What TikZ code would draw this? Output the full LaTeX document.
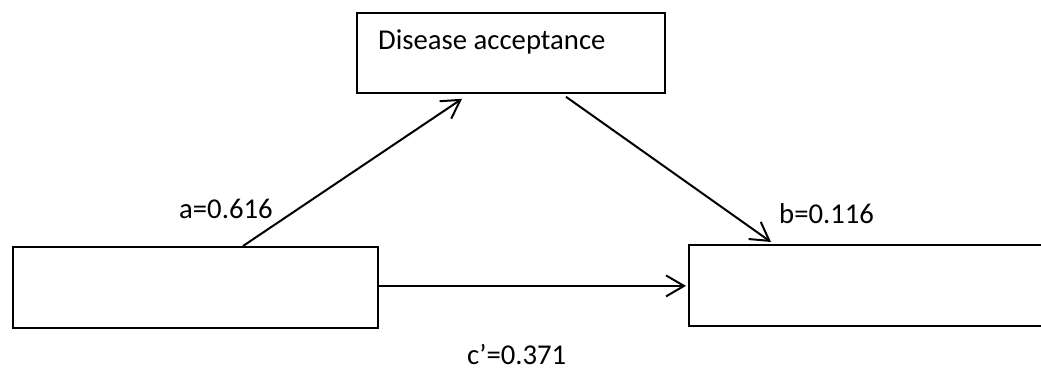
\documentclass[tikz,border=0pt]{standalone}
\usepackage{fontspec}
\setmainfont{Carlito}
\usetikzlibrary{arrows.meta,calc}
\begin{document}
\begin{tikzpicture}[x=1pt,y=-1pt,
  box/.style={draw=black,line width=1.8pt,fill=white,inner sep=0pt,anchor=north west},
  lbl/.style={inner sep=0pt,anchor=base west,font=\fontsize{28.7}{34}\selectfont},
  conn/.style={line width=2pt,-{Straight Barb[length=18pt,width=21pt,line width=2pt]}}]
\useasboundingbox (0,0) rectangle (1041,370);
\fill[white] (0,0) rectangle (1041,370);
\node[box,minimum width=308pt,minimum height=80pt] (tb) at (356,12) {};
\node[box,minimum width=365pt,minimum height=81pt] (lb) at (12,246) {};
\node[box,minimum width=380pt,minimum height=81pt] (rb) at (688,244) {};
\node[lbl] (tt) at (378,49) {Disease acceptance};
\node[lbl] (la) at (179,218) {a=0.616};
\node[lbl] (lbb) at (779,223) {b=0.116};
\node[lbl] (lc) at (467,364) {c’=0.371};
\draw[conn] ($(lb.north west)+(231,0)$) -- ($(tb.south west)+(106,5)$);
\draw[conn] ($(tb.south west)+(210,3)$) -- ($(rb.north west)+(83,-2)$);
\draw[conn] ($(lb.east)+(0,-1.5)$) -- ($(lb.east -| rb.west)+(-2,-1.5)$);
\end{tikzpicture}
\end{document}
